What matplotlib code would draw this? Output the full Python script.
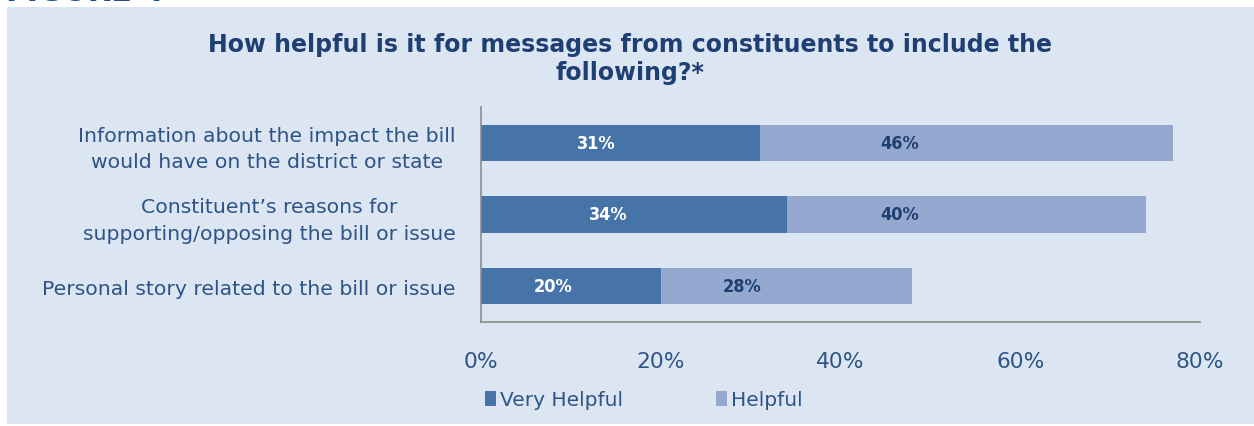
import matplotlib.pyplot as plt
from matplotlib.patches import Rectangle

# Survey answers (percent of respondents)
categories = [
    'Information about the impact the bill\nwould have on the district or state',
    'Constituent\u2019s reasons for\nsupporting/opposing the bill or issue',
    'Personal story related to the bill or issue',
]
very_helpful = [31, 34, 20]
helpful = [46, 40, 28]
xticks = [0, 20, 40, 60, 80]

dark = '#4673a8'
light = '#95a9d0'
bg = '#dce6f2'
txt = '#2e5487'
navy = '#1f3f73'

plt.rcParams['font.family'] = ['DejaVu Sans']

fig = plt.figure(figsize=(12.54, 4.27), dpi=100)
fig.patch.set_facecolor('white')
fig.patches.append(Rectangle((7 / 1254, 2 / 427), 1, 417 / 427, transform=fig.transFigure,
                             facecolor=bg, edgecolor='none', zorder=-10))

# clipped heading from the page above
fig.text(0.005, 1 - 0.8 / 427, 'FIGURE 4', fontsize=22, fontweight='bold', color='#1f4e8c',
         va='baseline', ha='left')

ax = fig.add_axes([481 / 1254, 1 - 323 / 427, 719 / 1254, 215 / 427])
ax.set_facecolor('none')

y = list(range(len(categories)))
ax.barh(y, very_helpful, height=0.51, color=dark, label='Very Helpful')
ax.barh(y, helpful, left=very_helpful, height=0.51, color=light, label='Helpful')

for i in y:
    c1 = very_helpful[i] / 2
    c2 = very_helpful[i] + helpful[i] / 2
    ax.text(0.876 * c1 - 0.7, i, f'{very_helpful[i]}%', color='white', fontsize=13,
            fontweight='bold', ha='center', va='center', fontstretch='condensed')
    ax.text(0.876 * c2 - 0.7, i, f'{helpful[i]}%', color=navy, fontsize=13,
            fontweight='bold', ha='center', va='center', fontstretch='condensed')

ax.set_xlim(0, 80)
ax.set_ylim(2.5, -0.5)
ax.set_xticks(xticks)
ax.set_xticklabels([f'{t}%' for t in xticks])
ax.set_yticks(y)
ax.set_yticklabels(categories, linespacing=1.5)
ax.tick_params(axis='x', length=0, pad=21, labelsize=15.7, labelcolor=txt)
ax.tick_params(axis='y', length=0, pad=18, labelsize=14.7, labelcolor=txt)
for lab in ax.get_yticklabels():
    lab.set_multialignment('center')

for s in ['top', 'right']:
    ax.spines[s].set_visible(False)
ax.spines['left'].set_color('#8c8c8c')
ax.spines['bottom'].set_color('#8c8c8c')
ax.spines['left'].set_linewidth(1.2)
ax.spines['bottom'].set_linewidth(1.2)

fig.text(630 / 1254, 1 - 59 / 427,
         'How helpful is it for messages from constituents to include the\nfollowing?*',
         ha='center', va='center', fontsize=17, fontweight='bold', color=navy,
         linespacing=1.25)

fig.legend(loc='center', bbox_to_anchor=(644 / 1254, 1 - 401 / 427), ncol=2, frameon=False,
           handlelength=0.55, handleheight=0.8, handletextpad=0.2, columnspacing=4.6,
           prop={'size': 14.5}, labelcolor=txt)

fig.savefig('out.png', dpi=100, facecolor='white')
